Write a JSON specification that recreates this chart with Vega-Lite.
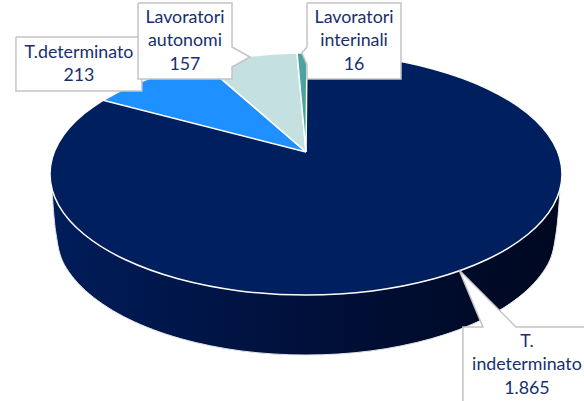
{"$schema":"https://vega.github.io/schema/vega-lite/v6.json","width":584,"height":401,"autosize":"none","padding":0,"background":"white","view":{"stroke":null},
"datasets":{
"wall":[{"i":0,"x":-0.992,"y":-0.132},{"i":1,"x":-0.977,"y":-0.488},{"i":2,"x":-0.944,"y":-0.749},{"i":3,"x":-0.846,"y":-0.992},{"i":4,"x":-0.691,"y":-1.201},{"i":5,"x":-0.489,"y":-1.361},{"i":6,"x":-0.253,"y":-1.462},{"i":7,"x":0,"y":-1.496},{"i":8,"x":0.253,"y":-1.462},{"i":9,"x":0.489,"y":-1.361},{"i":10,"x":0.691,"y":-1.201},{"i":11,"x":0.846,"y":-0.992},{"i":12,"x":0.944,"y":-0.749},{"i":13,"x":0.977,"y":-0.488},{"i":14,"x":0.992,"y":-0.132}],
"top":[{"i":0,"x":1,"y":0},{"i":1,"x":0.966,"y":0.259},{"i":2,"x":0.866,"y":0.5},{"i":3,"x":0.707,"y":0.707},{"i":4,"x":0.5,"y":0.866},{"i":5,"x":0.259,"y":0.966},{"i":6,"x":0,"y":1},{"i":7,"x":-0.259,"y":0.966},{"i":8,"x":-0.5,"y":0.866},{"i":9,"x":-0.707,"y":0.707},{"i":10,"x":-0.866,"y":0.5},{"i":11,"x":-0.966,"y":0.259},{"i":12,"x":-1,"y":0},{"i":13,"x":-0.966,"y":-0.259},{"i":14,"x":-0.866,"y":-0.5},{"i":15,"x":-0.707,"y":-0.707},{"i":16,"x":-0.5,"y":-0.866},{"i":17,"x":-0.259,"y":-0.966},{"i":18,"x":0,"y":-1},{"i":19,"x":0.259,"y":-0.966},{"i":20,"x":0.5,"y":-0.866},{"i":21,"x":0.707,"y":-0.707},{"i":22,"x":0.866,"y":-0.5},{"i":23,"x":0.966,"y":-0.259}],
"wedges":[
{"category":"T.determinato","i":0,"x":0,"y":0.182},{"category":"T.determinato","i":1,"x":-0.793,"y":0.609},{"category":"T.determinato","i":2,"x":-0.707,"y":0.707},{"category":"T.determinato","i":3,"x":-0.609,"y":0.793},{"category":"T.determinato","i":4,"x":-0.5,"y":0.866},{"category":"T.determinato","i":5,"x":-0.402,"y":0.916},{"category":"T.determinato","i":6,"x":0,"y":0.182},
{"category":"Lavoratori autonomi","i":0,"x":0,"y":0.182},{"category":"Lavoratori autonomi","i":1,"x":-0.402,"y":0.916},{"category":"Lavoratori autonomi","i":2,"x":-0.259,"y":0.966},{"category":"Lavoratori autonomi","i":3,"x":-0.131,"y":0.991},{"category":"Lavoratori autonomi","i":4,"x":-0.035,"y":0.999},{"category":"Lavoratori autonomi","i":5,"x":0,"y":0.182},
{"category":"Lavoratori interinali","i":0,"x":0,"y":0.182},{"category":"Lavoratori interinali","i":1,"x":-0.035,"y":0.999},{"category":"Lavoratori interinali","i":2,"x":0.004,"y":1},{"category":"Lavoratori interinali","i":3,"x":0,"y":0.182}],
"boxes":[
{"box":"a","i":0,"x":-1.133,"y":1.132},{"box":"a","i":1,"x":-0.641,"y":1.132},{"box":"a","i":2,"x":-0.641,"y":0.686},{"box":"a","i":3,"x":-1.133,"y":0.686},{"box":"a","i":4,"x":-1.133,"y":1.132},
{"box":"b","i":0,"x":-0.656,"y":1.413},{"box":"b","i":1,"x":-0.289,"y":1.413},{"box":"b","i":2,"x":-0.289,"y":1.05},{"box":"b","i":3,"x":-0.219,"y":0.967},{"box":"b","i":4,"x":-0.289,"y":0.884},{"box":"b","i":5,"x":-0.289,"y":0.785},{"box":"b","i":6,"x":-0.656,"y":0.785},{"box":"b","i":7,"x":-0.656,"y":1.413},
{"box":"c","i":0,"x":0.004,"y":1.413},{"box":"c","i":1,"x":0.371,"y":1.413},{"box":"c","i":2,"x":0.371,"y":0.785},{"box":"c","i":3,"x":0.004,"y":0.785},{"box":"c","i":4,"x":0.004,"y":0.901},{"box":"c","i":5,"x":-0.016,"y":1},{"box":"c","i":6,"x":0.004,"y":1.05},{"box":"c","i":7,"x":0.004,"y":1.413},
{"box":"d","i":0,"x":0.613,"y":-1.876},{"box":"d","i":1,"x":0.613,"y":-1.264},{"box":"d","i":2,"x":0.691,"y":-1.264},{"box":"d","i":3,"x":0.598,"y":-0.793},{"box":"d","i":4,"x":0.82,"y":-1.264},{"box":"d","i":5,"x":1.086,"y":-1.264}],
"labels":[
{"category":"T.determinato","value":213,"label":"T.determinato\n213","x":-0.887,"y":1.0},
{"category":"Lavoratori autonomi","value":157,"label":"Lavoratori\nautonomi\n157","x":-0.473,"y":1.289},
{"category":"Lavoratori interinali","value":16,"label":"Lavoratori\ninterinali\n16","x":0.1875,"y":1.289},
{"category":"T. indeterminato","value":1865,"label":"T.\nindeterminato\n1.865","x":0.863,"y":-1.388}]
},
"encoding":{
"x":{"field":"x","type":"quantitative","axis":null,"scale":{"domain":[-1.1953,1.0859],"nice":false,"zero":false}},
"y":{"field":"y","type":"quantitative","axis":null,"scale":{"domain":[-1.876,1.438],"nice":false,"zero":false}}
},
"layer":[
{"data":{"name":"wall"},"mark":{"type":"line","interpolate":"cardinal","strokeWidth":1,"stroke":"#e4e6ea","fill":{"x1":0,"y1":0,"x2":1,"y2":0,"gradient":"linear","stops":[{"offset":0,"color":"#001c5a"},{"offset":0.5,"color":"#00103a"},{"offset":1,"color":"#000820"}]}},"encoding":{"order":{"field":"i","type":"quantitative"}}},
{"data":{"name":"top"},"mark":{"type":"line","interpolate":"cardinal-closed","strokeWidth":1.5,"stroke":"white","fill":"#001f5f"},"encoding":{"order":{"field":"i","type":"quantitative"}}},
{"data":{"name":"wedges"},"transform":[{"filter":"datum.category==='T.determinato'"}],"mark":{"type":"line","strokeWidth":1.5,"stroke":"white","fill":"#1e90ff"},"encoding":{"order":{"field":"i","type":"quantitative"}}},
{"data":{"name":"wedges"},"transform":[{"filter":"datum.category==='Lavoratori autonomi'"}],"mark":{"type":"line","strokeWidth":1.5,"stroke":"white","fill":"#c5e0e1"},"encoding":{"order":{"field":"i","type":"quantitative"}}},
{"data":{"name":"wedges"},"transform":[{"filter":"datum.category==='Lavoratori interinali'"}],"mark":{"type":"line","strokeWidth":1.5,"stroke":"white","fill":"#4ba3a0"},"encoding":{"order":{"field":"i","type":"quantitative"}}},
{"data":{"name":"boxes"},"mark":{"type":"line","strokeWidth":1.5,"stroke":"#c4c4c4","fill":"white"},"encoding":{"detail":{"field":"box"},"order":{"field":"i","type":"quantitative"}}},
{"data":{"name":"labels"},"mark":{"type":"text","font":"Lato","fontSize":17.8,"lineBreak":"\n","lineHeight":23.4,"align":"center","baseline":"middle","color":"#17306e"},"encoding":{"text":{"field":"label"}}}
]}
